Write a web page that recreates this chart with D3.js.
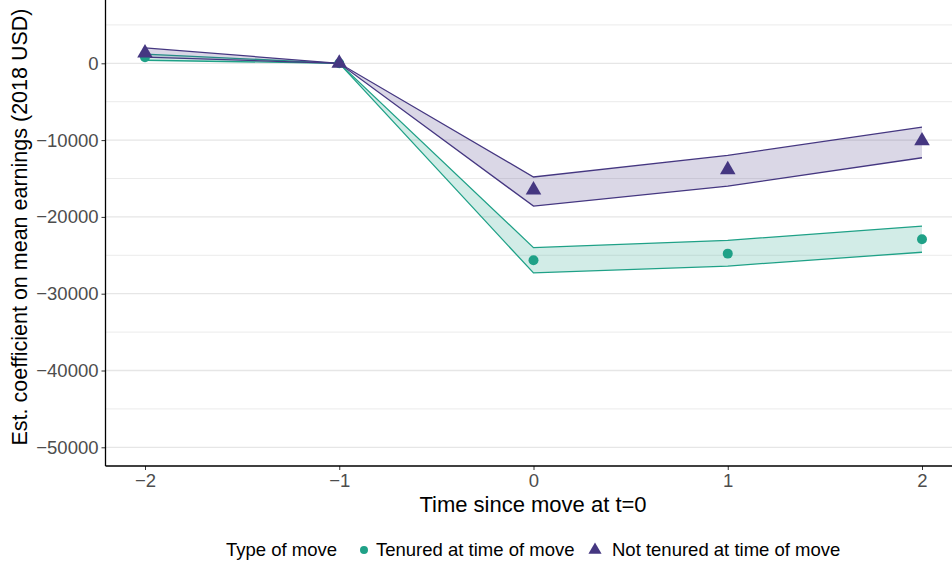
<!DOCTYPE html>
<html><head><meta charset="utf-8">
<script src="https://cdn.jsdelivr.net/npm/d3@7"></script>
<style>body{margin:0;background:#fff}svg{display:block}text{font-family:"Liberation Sans",Arial,sans-serif}</style>
</head><body><svg id="c" width="952" height="565"></svg>
<script>
const times = [-2, -1, 0, 1, 2];
const seriesNames = ["Tenured at time of move", "Not tenured at time of move"];
const tenuredEst = [800, 0, -25650, -24780, -22900];
const tenuredLow = [400, 0, -27300, -26400, -24600];
const tenuredHigh = [1200, 0, -24000, -23050, -21200];
const notTenuredEst = [1350, 0, -16500, -13850, -10100];
const notTenuredLow = [800, 0, -18600, -16000, -12300];
const notTenuredHigh = [2000, 0, -14800, -12000, -8300];
const yTicks = [0, -10000, -20000, -30000, -40000, -50000];
const yMinor = [5000, -5000, -15000, -25000, -35000, -45000];
const colors = ["#1fa187", "#453781"];

(function () {
const svg = d3.select("#c");
const pLeft = 105.5, pBottom = 466, pTop = 0, pRight = 952;
const x = d3.scaleLinear().domain([-2, 2]).range([145, 922]);
const y = d3.scaleLinear().domain([-50000, 0]).range([447.3, 63.3]);
const tickFont = 18.5, titleFont = 22;

// gridlines
svg.append("g").selectAll("line").data(yMinor).join("line")
  .attr("x1", pLeft).attr("x2", pRight).attr("y1", d => y(d)).attr("y2", d => y(d))
  .attr("stroke", "#ebebeb").attr("stroke-width", 1);
svg.append("g").selectAll("line").data(yTicks).join("line")
  .attr("x1", pLeft).attr("x2", pRight).attr("y1", d => y(d)).attr("y2", d => y(d))
  .attr("stroke", "#e6e6e6").attr("stroke-width", 1.3);

const series = [
  {name: seriesNames[0], est: tenuredEst, lo: tenuredLow, hi: tenuredHigh, color: colors[0], shape: d3.symbolCircle},
  {name: seriesNames[1], est: notTenuredEst, lo: notTenuredLow, hi: notTenuredHigh, color: colors[1], shape: d3.symbolTriangle}
];

const area = d3.area().x((d, i) => x(times[i])).y0(d => y(d[0])).y1(d => y(d[1]));
const line = d3.line().x((d, i) => x(times[i])).y(d => y(d));

series.forEach(s => {
  const g = svg.append("g");
  g.append("path").datum(s.lo.map((v, i) => [v, s.hi[i]])).attr("d", area)
    .attr("fill", s.color).attr("fill-opacity", 0.2);
  g.append("path").datum(s.lo).attr("d", line).attr("fill", "none").attr("stroke", s.color).attr("stroke-width", 1.3);
  g.append("path").datum(s.hi).attr("d", line).attr("fill", "none").attr("stroke", s.color).attr("stroke-width", 1.3);
});
series.forEach(s => {
  svg.append("g").selectAll("path").data(s.est).join("path")
    .attr("d", d3.symbol().type(s.shape).size(s.shape === d3.symbolCircle ? 78 : 105))
    .attr("transform", (d, i) => `translate(${x(times[i])},${y(d)})`)
    .attr("fill", s.color);
});

// axes
const yAxis = d3.axisLeft(y).tickValues(yTicks).tickSize(4).tickPadding(3).tickFormat(d => d === 0 ? "0" : "\u2212" + Math.abs(d));
const ya = svg.append("g").attr("transform", `translate(${pLeft},0)`).call(yAxis);
ya.select(".domain").remove();
ya.selectAll("line").attr("stroke", "#333");
ya.selectAll("text").attr("font-size", tickFont).attr("fill", "#4d4d4d").attr("font-family", "Liberation Sans, Arial, sans-serif");
const xAxis = d3.axisBottom(x).tickValues(times).tickSize(4).tickPadding(4).tickFormat(d => d < 0 ? "\u2212" + Math.abs(d) : String(d));
const xa = svg.append("g").attr("transform", `translate(0,${pBottom})`).call(xAxis);
xa.select(".domain").remove();
xa.selectAll("line").attr("stroke", "#333");
xa.selectAll("text").attr("font-size", tickFont).attr("fill", "#4d4d4d").attr("font-family", "Liberation Sans, Arial, sans-serif");

svg.append("line").attr("x1", pLeft).attr("x2", pLeft).attr("y1", pTop).attr("y2", pBottom).attr("stroke", "#000").attr("stroke-width", 1.3);
svg.append("line").attr("x1", pLeft).attr("x2", pRight).attr("y1", pBottom).attr("y2", pBottom).attr("stroke", "#000").attr("stroke-width", 1.3);

// titles
svg.append("text").attr("x", 533).attr("y", 512).attr("text-anchor", "middle").attr("font-size", titleFont).attr("fill", "#000").text("Time since move at t=0");
svg.append("text").attr("transform", "translate(27,227) rotate(-90)").attr("text-anchor", "middle").attr("font-size", 21.5).attr("fill", "#000").text("Est. coefficient on mean earnings (2018 USD)");

// legend
const ly = 550;
svg.append("text").attr("x", 226).attr("y", ly).attr("dy", "0.35em").attr("font-size", tickFont).text("Type of move");
const legItems = [{x: 364, tx: 376}, {x: 595, tx: 612}];
series.forEach((s, i) => {
  svg.append("path").attr("d", d3.symbol().type(s.shape).size(s.shape === d3.symbolCircle ? 50 : 75))
    .attr("transform", `translate(${legItems[i].x},${ly})`).attr("fill", s.color);
  svg.append("text").attr("x", legItems[i].tx).attr("y", ly).attr("dy", "0.35em").attr("font-size", tickFont).text(s.name);
});
})();
</script></body></html>
